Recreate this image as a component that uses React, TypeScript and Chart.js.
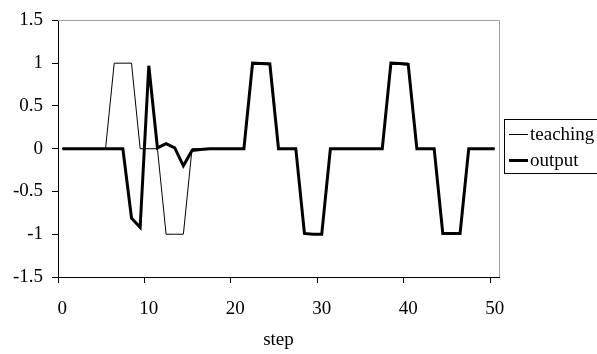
import React, { useEffect, useRef } from "react";
import { Chart, registerables } from "chart.js";

Chart.register(...registerables);

const steps = [0,1,2,3,4,5,6,7,8,9,10,11,12,13,14,15,16,17,18,19,20,21,22,23,24,25,26,27,28,29,30,31,32,33,34,35,36,37,38,39,40,41,42,43,44,45,46,47,48,49,50];

const teaching = [
  0, 0, 0, 0, 0, 0,
  1, 1, 1,
  0, 0, 0,
  -1, -1, -1,
  0, 0, 0, 0, 0, 0, 0,
  1, 1, 1,
  0, 0, 0,
  -1, -1, -1,
  0, 0, 0, 0, 0, 0, 0,
  1, 1, 1,
  0, 0, 0,
  -1, -1, -1,
  0, 0, 0, 0,
];

const output = [
  0, 0, 0, 0, 0, 0, 0, 0,
  -0.81, -0.92, 0.97, 0.01, 0.06, 0.01, -0.2, -0.02, -0.01,
  0, 0, 0, 0, 0,
  1.0, 0.995, 0.99,
  0, 0, 0,
  -0.99, -1.0, -1.0,
  0, 0, 0, 0, 0, 0, 0,
  1.0, 0.995, 0.985,
  0, 0, 0,
  -0.99, -0.99, -0.99,
  0, 0, 0, 0,
];

const xTickValues = [0, 10, 20, 30, 40, 50];
const yTickValues = [-1.5, -1, -0.5, 0, 0.5, 1, 1.5];
const seriesNames = ["teaching", "output"];
const xTitle = "step";

const FONT = "'Liberation Serif', 'Times New Roman', serif";

export default function App() {
  const ref = useRef<HTMLCanvasElement | null>(null);

  useEffect(() => {
    if (!ref.current) return;

    const framePlugin = {
      id: "frame",
      afterDraw(chart: any) {
        const { ctx, chartArea } = chart;
        ctx.save();
        ctx.strokeStyle = "#a0a0a0";
        ctx.lineWidth = 1;
        ctx.beginPath();
        ctx.moveTo(Math.round(chartArea.left), Math.round(chartArea.top) + 0.5);
        ctx.lineTo(Math.round(chartArea.right) + 0.5, Math.round(chartArea.top) + 0.5);
        ctx.lineTo(Math.round(chartArea.right) + 0.5, Math.round(chartArea.bottom));
        ctx.stroke();

        const lx = 504.5, ly = 119.5, lw = 110, lh = 54;
        ctx.fillStyle = "#ffffff";
        ctx.fillRect(lx, ly, lw, lh);
        ctx.strokeStyle = "#000000";
        ctx.lineWidth = 1;
        ctx.strokeRect(lx, ly, lw, lh);
        const rows = [
          { name: seriesNames[0], w: 1, y: 134.5 },
          { name: seriesNames[1], w: 3, y: 160.5 },
        ];
        ctx.font = `19px ${FONT}`;
        ctx.textBaseline = "middle";
        ctx.textAlign = "left";
        ctx.fillStyle = "#000";
        rows.forEach((r) => {
          ctx.lineWidth = r.w;
          ctx.beginPath();
          ctx.moveTo(509, r.y);
          ctx.lineTo(528, r.y);
          ctx.stroke();
          ctx.fillText(r.name, 530, r.y + 1);
        });
        ctx.restore();
      },
    };

    const chart = new Chart(ref.current, {
      type: "line",
      data: {
        labels: steps,
        datasets: [
          {
            label: seriesNames[1],
            data: steps.map((s, i) => ({ x: s, y: output[i] })),
            borderColor: "#000",
            borderWidth: 3,
            pointRadius: 0,
            tension: 0,
            order: 0,
          },
          {
            label: seriesNames[0],
            data: steps.map((s, i) => ({ x: s, y: teaching[i] })),
            borderColor: "#000",
            borderWidth: 1,
            pointRadius: 0,
            tension: 0,
            order: 1,
          },
        ],
      },
      options: {
        animation: false,
        responsive: false,
        devicePixelRatio: 1,
        layout: { padding: { left: 0, top: 16, right: 98, bottom: 0 } },
        plugins: { legend: { display: false }, tooltip: { enabled: false } },
        scales: {
          x: {
            type: "linear",
            min: -0.5,
            max: 50.5,
            afterFit(scale: any) {
              scale.height = 77;
            },
            afterBuildTicks(scale: any) {
              scale.ticks = xTickValues.map((v) => ({ value: v - 0.5 }));
            },
            grid: {
              drawOnChartArea: false,
              drawTicks: true,
              tickLength: 6,
              color: "#000",
            },
            border: { display: true, color: "#000", width: 1 },
            ticks: {
              color: "#000",
              font: { family: FONT, size: 19 },
              padding: 15,
              labelOffset: 4.3,
              maxRotation: 0,
              autoSkip: false,
              callback: (v: any) => String(Math.round(Number(v) + 0.5)),
            },
            title: {
              display: true,
              text: xTitle,
              color: "#000",
              font: { family: FONT, size: 19 },
              padding: { top: 0, bottom: 3 },
            },
          },
          y: {
            min: -1.5,
            max: 1.5,
            afterFit(scale: any) {
              scale.width = 58;
            },
            afterBuildTicks(scale: any) {
              scale.ticks = yTickValues.map((v) => ({ value: v }));
            },
            grid: {
              drawOnChartArea: false,
              drawTicks: true,
              tickLength: 6,
              color: "#000",
            },
            border: { display: true, color: "#000", width: 1 },
            ticks: {
              color: "#000",
              font: { family: FONT, size: 19 },
              padding: 9,
              callback: (v: any) => String(v),
            },
          },
        },
      },
      plugins: [framePlugin],
    } as any);

    return () => chart.destroy();
  }, []);

  return (
    <div style={{ position: "fixed", left: 0, top: 0, width: 597, height: 354, background: "#fff" }}>
      <canvas ref={ref} width={597} height={354} style={{ width: 597, height: 354, display: "block" }} />
    </div>
  );
}
